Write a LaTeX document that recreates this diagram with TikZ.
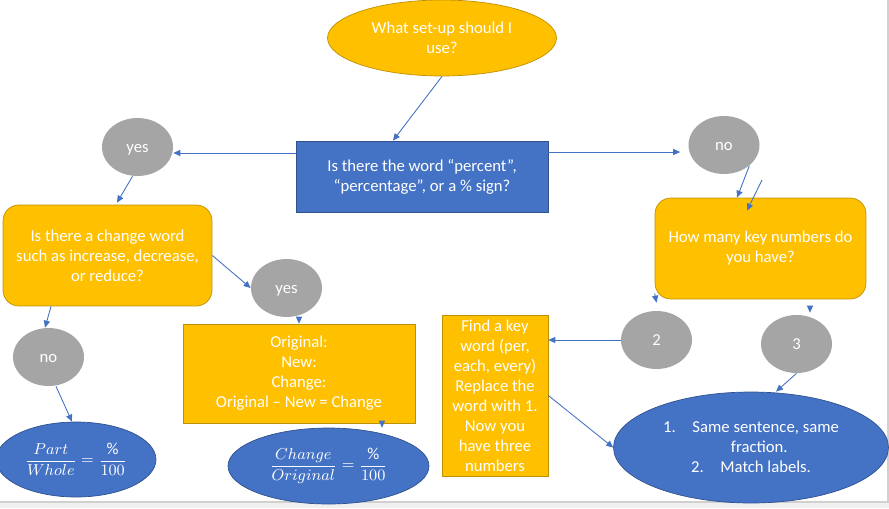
\documentclass[tikz,border=0pt]{standalone}
\usepackage{fontspec}
\setmainfont{Carlito}
\usepackage{amsmath}
\usetikzlibrary{positioning,arrows.meta,shapes.geometric,calc}
\definecolor{setupcol}{RGB}{255,192,0}
\definecolor{setupborder}{RGB}{191,144,0}
\definecolor{querycol}{RGB}{68,114,196}
\definecolor{queryborder}{RGB}{47,82,143}
\definecolor{answercol}{RGB}{165,165,165}
\definecolor{linkcol}{RGB}{68,114,196}
\definecolor{framegrey}{RGB}{208,208,208}
\definecolor{bandgrey}{RGB}{240,240,240}

\begin{document}
\begin{tikzpicture}[
                x=0.02cm, y=-0.02cm,
                font=\fontsize{9.5}{11.4}\selectfont,
                >={Triangle[length=4pt,width=3.5pt]},
                orangebox/.style={rectangle, fill=setupcol, draw=setupborder, text=white, align=center, inner sep=2pt},
                roundbox/.style={orangebox, rounded corners=9pt},
                orangeoval/.style={ellipse, fill=setupcol, draw=setupborder, text=white, align=center, inner sep=0pt},
                blueoval/.style={ellipse, fill=querycol, draw=queryborder, text=white, align=center, inner sep=0pt},
                answer/.style={ellipse, fill=answercol, text=white, minimum width=1.42cm, minimum height=1.16cm, inner sep=0pt, text height=1.6ex, text depth=0.2ex},
                arrow/.style={->, draw=linkcol, line width=0.5pt}
                ]
                % page frame of the screenshot
                \useasboundingbox (0,0) rectangle (889,508);
                \fill[bandgrey] (0,502) rectangle (889,508);
                \draw[framegrey, line width=0.8pt] (0,502) -- (889,502);
                \draw[framegrey, line width=0.8pt] (888,0) -- (888,502);

                \node[orangeoval, minimum width=4.58cm, minimum height=1.52cm] (setup) at (442,38) {What set-up should I\\ use?};
                \node[rectangle, fill=querycol, draw=queryborder, text=white, align=center, minimum width=5.04cm, minimum height=1.42cm] (pct) at (422,176.5) {Is there the word ``percent'',\\ ``percentage'', or a \% sign?};

                \node[answer] (yes1) at (137.5,147) {yes};
                \node[answer] (no1) at (724,145) {no};

                \node[roundbox, minimum width=4.18cm, minimum height=2.02cm] (change) at (107.5,255.5) {Is there a change word\\ such as increase, decrease,\\ or reduce?};
                \node[answer] (yes2) at (286.5,288) {yes};
                \node[answer] (no2) at (48.5,357) {no};
                \node[orangebox, minimum width=4.64cm, minimum height=1.98cm] (orig) at (299,373.5) {Original:\\ New:\\ Change:\\ Original -- New = Change};

                \node[blueoval, minimum width=3.2cm, minimum height=1.5cm] (partell) at (76,459.5) {$\dfrac{Part}{Whole}=\dfrac{\%}{100}$};
                \node[blueoval, minimum width=4.02cm, minimum height=1.52cm] (changeell) at (328.5,466) {$\dfrac{Change}{Original}=\dfrac{\%}{100}$};

                \node[roundbox, minimum width=4.22cm, minimum height=2.02cm] (howmany) at (760.5,248.5) {How many key numbers do\\ you have?};
                \node[answer] (two) at (656.5,340) {2};
                \node[answer] (three) at (796.5,344) {3};

                \node[orangebox, minimum width=2.12cm, minimum height=3.22cm, inner sep=0pt] (find) at (495,395.5) {Find a key\\ word (per,\\ each, every)\\ Replace the\\ word with 1.\\ Now you\\ have three\\ numbers};
                \node[blueoval, minimum width=5.5cm, minimum height=2.22cm] (ruleell) at (751,447.5) {1.\quad Same sentence, same\\ \quad fraction.\\ 2.\quad Match labels.};

                \coordinate (nofree) at (762,180);

                \draw[arrow] (setup.south) -- ([xshift=-0.58cm]pct.north);
                \draw[arrow] ([yshift=0.47cm]pct.west) -- ([yshift=0.47cm]pct.west -| yes1.east);
                \draw[arrow] ([yshift=0.49cm]pct.east) -- ([yshift=0.49cm, xshift=-0.16cm]pct.east -| no1.west);
                \draw[arrow] ([xshift=-0.1cm]yes1.south) -- ([xshift=0.19cm, yshift=0.04cm]change.north);
                \draw[arrow] (no1.south east) -- ([xshift=-0.47cm]howmany.north);
                \draw[arrow] (nofree) -- ([xshift=-0.27cm, yshift=-0.26cm]howmany.north);
                \draw[arrow] (change.east) -- (yes2.west);
                \draw[arrow] (yes2.south -| orig.north) -- (orig.north);
                \draw[arrow] ([xshift=-1.13cm]change.south) -- ([xshift=-0.07cm]no2.north);
                \draw[arrow] ([xshift=0.15cm]no2.south) -- ([xshift=-0.08cm]partell.north);
                \draw[arrow] ([xshift=1.66cm]orig.south) -- ([xshift=1.66cm]orig.south |- changeell.north);
                \draw[arrow] ([yshift=0.12cm]howmany.south west) -- ([yshift=0.16cm]two.north);
                \draw[arrow] ([xshift=0.99cm, yshift=-0.14cm]howmany.south) -- ([xshift=0.27cm, yshift=0.04cm]three.north);
                \draw[arrow] (two.west) -- (two.west -| find.east);
                \draw[arrow] (three.south) -- ([xshift=0.5cm]ruleell.north);
                \draw[arrow] (find.east) -- (ruleell.west);
            \end{tikzpicture}
\end{document}
